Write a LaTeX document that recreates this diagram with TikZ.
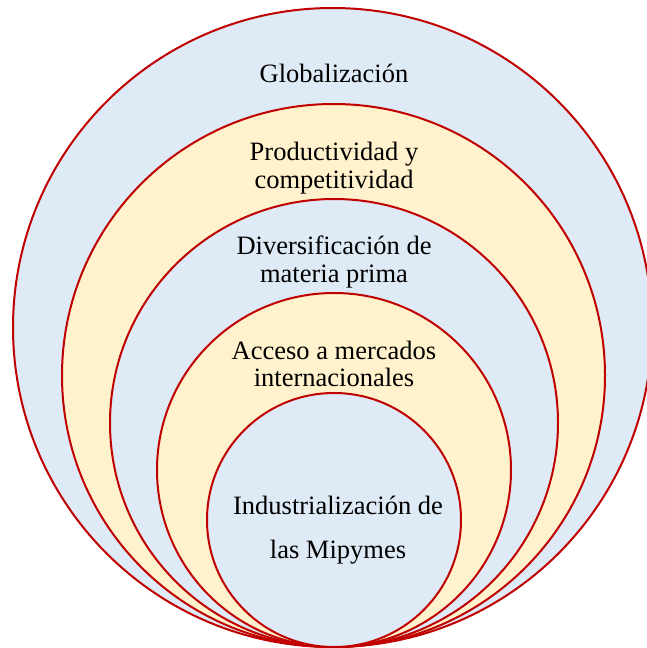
\documentclass[tikz,border=0pt]{standalone}
\usepackage{fontspec}
\setmainfont{Liberation Serif}
\usetikzlibrary{positioning}
\definecolor{ringblue}{RGB}{222,234,246}
\definecolor{ringyellow}{RGB}{255,242,204}
\definecolor{ringred}{RGB}{192,0,0}
\tikzset{
  ring/.style={circle,draw=ringred,line width=2pt,inner sep=0pt},
  bluering/.style={ring,fill=ringblue},
  yellowring/.style={ring,fill=ringyellow},
  lab/.style={align=center,font=\fontsize{26.5}{27.5}\selectfont,text=black},
}
\begin{document}
\begin{tikzpicture}[x=1pt,y=-1pt]
  \useasboundingbox (0,0) rectangle (646,648);
  % nested rings, all tangent at the bottom
  \node[bluering,minimum size=639pt]   (globo)  at (332.5,327.5) {};
  \node[yellowring,minimum size=543pt] (prod)   at (333.5,375.5) {};
  \node[bluering,minimum size=448pt]   (diver)  at (334,423) {};
  \node[yellowring,minimum size=354pt] (acceso) at (334,470) {};
  \node[bluering,minimum size=254pt]   (indus)  at (334,520) {};

  \node[lab] (tglobo)  at (334,73)  {Globalización};
  \node[lab] (tprod)   at (334,168) {Productividad y\\competitividad};
  \node[lab] (tdiver)  at (334,262) {Diversificación de\\materia prima};
  \node[lab] (tacceso) at (334,364) {Acceso a mercados\\internacionales};
  \node[lab,font=\fontsize{26.5}{44}\selectfont] (tindus) at (338,530)
    {Industrialización de\\las Mipymes};
\end{tikzpicture}
\end{document}
